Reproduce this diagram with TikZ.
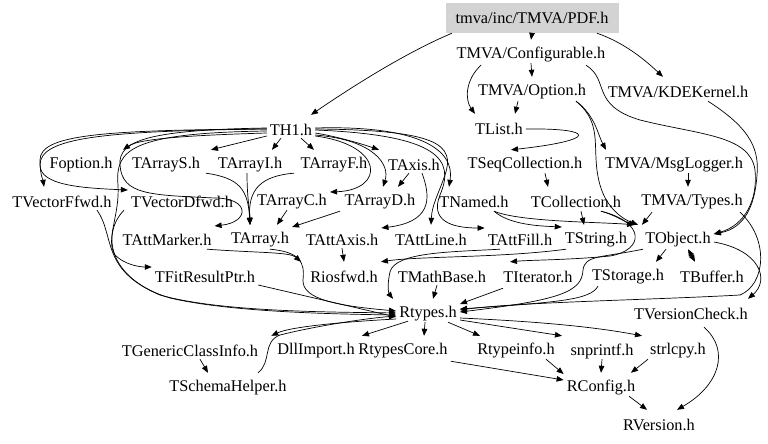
\documentclass[tikz,border=0pt]{standalone}
\usepackage{fontspec}
\setmainfont{Liberation Serif}
\usetikzlibrary{arrows.meta}
\definecolor{pdfgray}{RGB}{211,211,211}
\tikzset{
  lbl/.style={inner xsep=3pt, inner ysep=0pt, minimum height=30pt, font=\fontsize{16.3}{19}\selectfont},
  e/.style={draw, line width=0.7pt, -{Triangle[length=7pt,width=5.5pt]}},
  ee/.style={draw, line width=0.7pt, {Triangle[length=7pt,width=5.5pt]}-{Triangle[length=7pt,width=5.5pt]}}
}
\begin{document}
\begin{tikzpicture}[x=1pt,y=-1pt]
\useasboundingbox (0,0) rectangle (768,444);
% nodes
\node[lbl, fill=pdfgray, minimum width=173pt] (pdf) at (532,18) {tmva/inc/TMVA/PDF.h};
\node[lbl] (conf) at (531,55) {TMVA/Configurable.h};
\node[lbl] (opt) at (532,92) {TMVA/Option.h};
\node[lbl] (kde) at (678,92) {TMVA/KDEKernel.h};
\node[lbl] (th1) at (291,130) {TH1.h};
\node[lbl] (tlist) at (499,129) {TList.h};
\node[lbl] (foption) at (81,165) {Foption.h};
\node[lbl] (tarrs) at (166,165) {TArrayS.h};
\node[lbl] (tarri) at (250,165) {TArrayI.h};
\node[lbl] (tarrf) at (334,165) {TArrayF.h};
\node[lbl] (taxis) at (414,165) {TAxis.h};
\node[lbl] (tseq) at (525,165) {TSeqCollection.h};
\node[lbl] (msglog) at (674,165) {TMVA/MsgLogger.h};
\node[lbl] (tvecf) at (62,202) {TVectorFfwd.h};
\node[lbl] (tvecd) at (182,202) {TVectorDfwd.h};
\node[lbl] (tarrc) at (292,202) {TArrayC.h};
\node[lbl] (tarrd) at (380,202) {TArrayD.h};
\node[lbl] (tnamed) at (474,202) {TNamed.h};
\node[lbl] (tcoll) at (576,202) {TCollection.h};
\node[lbl] (types) at (692,202) {TMVA/Types.h};
\node[lbl] (tattm) at (167,240) {TAttMarker.h};
\node[lbl] (tarray) at (260,240) {TArray.h};
\node[lbl] (tatta) at (342,240) {TAttAxis.h};
\node[lbl] (tattl) at (431,240) {TAttLine.h};
\node[lbl] (tattf) at (520,240) {TAttFill.h};
\node[lbl] (tstring) at (596,240) {TString.h};
\node[lbl] (tobject) at (678,240) {TObject.h};
\node[lbl] (tfit) at (205,277) {TFitResultPtr.h};
\node[lbl] (riosfwd) at (344,277) {Riosfwd.h};
\node[lbl] (tmathb) at (442,277) {TMathBase.h};
\node[lbl] (titer) at (538,277) {TIterator.h};
\node[lbl] (tstor) at (628,277) {TStorage.h};
\node[lbl] (tbuf) at (712,277) {TBuffer.h};
\node[lbl] (rtypes) at (428,314) {Rtypes.h};
\node[lbl] (tvers) at (691,314) {TVersionCheck.h};
\node[lbl] (tgen) at (190,351) {TGenericClassInfo.h};
\node[lbl] (dll) at (316,351) {DllImport.h};
\node[lbl] (rcore) at (403,351) {RtypesCore.h};
\node[lbl] (rtinfo) at (516,351) {Rtypeinfo.h};
\node[lbl] (snpr) at (602,351) {snprintf.h};
\node[lbl] (strl) at (678,351) {strlcpy.h};
\node[lbl] (tschema) at (228,388) {TSchemaHelper.h};
\node[lbl] (rconfig) at (601,388) {RConfig.h};
\node[lbl] (rversion) at (659,425) {RVersion.h};
% edges: top
\draw[e] (pdf.south) -- (conf.north);
\draw[e] ([xshift=-80pt]pdf.south) .. controls (400,55) and (340,95) .. ([xshift=20pt]th1.north);
\draw[e] ([xshift=65pt]pdf.south) .. controls (625,43) and (645,60) .. ([xshift=-15pt]kde.north);
\draw[e] ([yshift=7pt]conf.south) -- (opt.north);
\draw[e] ([xshift=-50pt,yshift=5pt]conf.south) .. controls (465,80) and (465,100) .. ([xshift=-24pt]tlist.north);
\draw[e] ([xshift=55pt,yshift=5pt]conf.south) .. controls (610,80) and (590,105) .. (640,120) .. controls (700,135) and (750,135) .. (755,170) .. controls (758,200) and (745,225) .. ([yshift=6pt]tobject.east);
\draw[e] ([xshift=30pt,yshift=6pt]kde.south) .. controls (745,125) and (760,145) .. (757,175) .. controls (755,205) and (745,228) .. ([yshift=6pt]tobject.east);
\draw[e] ([xshift=-14pt,yshift=6pt]opt.south) -- ([xshift=16pt]tlist.north);
\draw[e] ([xshift=44pt,yshift=6pt]opt.south) .. controls (595,115) and (598,135) .. ([xshift=-68pt]msglog.north);
\draw[e] ([xshift=44pt,yshift=6pt]opt.south) .. controls (605,125) and (590,150) .. (600,185) .. controls (607,210) and (625,220) .. ([xshift=-40pt]tobject.north);
\draw[e] (tlist.east) .. controls (595,128) and (600,140) .. ([xshift=-14pt]tseq.north);
% TH1 edges
\draw[e] ([yshift=2pt]th1.east) .. controls (420,125) and (455,150) .. ([xshift=-25pt]tnamed.north);
\draw[e] ([yshift=1pt]th1.east) .. controls (440,130) and (455,145) .. (445,175) .. controls (438,195) and (432,205) .. (tattl.north);
\draw[e] (th1.east) .. controls (440,135) and (455,160) .. (440,195) .. controls (430,220) and (450,228) .. ([yshift=12pt]tattf.west);
\draw[e] ([yshift=-3pt]th1.east) .. controls (340,137) and (365,145) .. ([xshift=-35pt]taxis.north);
\draw[e] ([yshift=-5pt]th1.east) .. controls (375,140) and (390,165) .. ([xshift=3pt]tarrd.north);
\draw[e] ([yshift=-6pt]th1.east) .. controls (385,145) and (385,190) .. ([yshift=10pt]tarrc.east);
\draw[e] ([xshift=-10pt,yshift=7pt]th1.south) -- ([xshift=22pt]tarri.north);
\draw[e] ([xshift=10pt,yshift=7pt]th1.south) -- ([xshift=-20pt]tarrf.north);
\draw[e] ([yshift=-6pt]th1.west) -- ([xshift=45pt]tarrs.north);
\draw[e] ([yshift=-3pt]th1.west) .. controls (200,135) and (140,138) .. ([xshift=42pt]foption.north);
\draw[e] ([yshift=1pt]th1.west) .. controls (100,130) and (40,135) .. (40,160) .. controls (40,175) and (43,180) .. ([xshift=-18pt]tvecf.north);
\draw[e] ([yshift=1pt]th1.west) .. controls (100,131) and (40,138) .. (40,165) .. controls (40,185) and (80,188) .. ([yshift=12pt]tvecd.west);
\draw[e] ([yshift=2pt]th1.west) .. controls (150,130) and (118,140) .. (120,165) .. controls (122,195) and (150,195) .. (215,198) .. controls (250,198) and (250,222) .. ([yshift=14pt]tattm.east);
\draw[e] ([yshift=-1pt]th1.west) .. controls (130,133) and (115,150) .. (118,185) .. controls (120,215) and (105,240) .. (115,255) .. controls (125,265) and (140,267) .. ([yshift=10pt]tfit.west);
% vector -> Rtypes
\draw[e] ([xshift=35pt,yshift=7pt]tvecf.south) .. controls (115,235) and (100,270) .. (160,295) .. controls (220,312) and (330,312) .. ([yshift=1pt]rtypes.west);
\draw[e] ([xshift=-58pt,yshift=7pt]tvecd.south) .. controls (100,235) and (110,280) .. (170,298) .. controls (230,312) and (330,314) .. ([yshift=-1pt]rtypes.west);
\draw[e] ([yshift=-8pt]tfit.east) -- ([yshift=-3pt]rtypes.west);
% arrays
\draw[e] ([xshift=40pt,yshift=7pt]tarrs.south) .. controls (240,178) and (248,190) .. ([xshift=-10pt]tarray.north);
\draw[e] ([xshift=-3pt,yshift=7pt]tarri.south) .. controls (247,200) and (250,210) .. ([xshift=-10pt]tarray.north);
\draw[e] ([xshift=-40pt,yshift=7pt]tarrf.south) .. controls (260,176) and (248,190) .. ([xshift=-10pt]tarray.north);
\draw[e] ([xshift=-5pt,yshift=7pt]tarrc.south) -- ([xshift=17pt]tarray.north);
\draw[e] ([xshift=-40pt,yshift=6pt]tarrd.south) -- ([yshift=13pt]tarray.east);
\draw[e] ([xshift=-5pt,yshift=7pt]taxis.south) -- ([xshift=18pt]tarrd.north);
\draw[e] ([xshift=8pt,yshift=7pt]taxis.south) .. controls (432,200) and (430,222) .. ([yshift=12pt]tatta.east);
\draw[e] ([yshift=7pt]tatta.south) -- (riosfwd.north);
\draw[e] ([xshift=40pt,yshift=6pt]tattm.south) .. controls (260,253) and (290,252) .. ([xshift=-6pt]riosfwd.north west);
\draw[e] ([xshift=10pt,yshift=6pt]tarray.south) .. controls (300,252) and (305,262) .. (303,280) .. controls (302,300) and (340,306) .. ([yshift=3pt]rtypes.west);
\draw[e] ([xshift=-20pt,yshift=6pt]tattf.south) .. controls (450,252) and (395,252) .. (390,272) .. controls (386,290) and (390,295) .. ([xshift=-35pt]rtypes.north);
% collections, strings, objects
\draw[e] ([xshift=20pt,yshift=7pt]tseq.south) -- ([xshift=-28pt]tcoll.north);
\draw[e] ([xshift=20pt,yshift=6pt]tnamed.south) .. controls (520,222) and (600,222) .. ([xshift=-44pt]tobject.north);
\draw[e] ([xshift=20pt,yshift=6pt]tnamed.south) .. controls (510,225) and (540,226) .. ([yshift=13pt]tstring.west);
\draw[e] ([xshift=25pt,yshift=6pt]tcoll.south) .. controls (615,215) and (625,222) .. ([xshift=-42pt]tobject.north);
\draw[e] ([xshift=5pt,yshift=6pt]tcoll.south) -- ([xshift=-12pt]tstring.north);
\draw[e] ([xshift=25pt,yshift=6pt]tcoll.south) .. controls (645,222) and (645,250) .. (610,256) .. controls (570,260) and (530,260) .. ([xshift=-28pt]titer.north);
\draw[e] ([xshift=14pt,yshift=7pt]msglog.south) -- ([xshift=-4pt]types.north);
\draw[e] ([xshift=-40pt,yshift=5pt]types.south) -- ([xshift=-36pt]tobject.north);
\draw[e] ([xshift=48pt,yshift=5pt]types.south) .. controls (770,240) and (765,285) .. (740,295) .. controls (650,300) and (520,302) .. ([yshift=4pt]rtypes.east);
\draw[e] ([xshift=-30pt,yshift=6pt]tstring.south) .. controls (500,258) and (420,256) .. (riosfwd.north east);
\draw[e] ([yshift=-2pt]tobject.east) .. controls (760,250) and (770,280) .. ([xshift=57pt]tvers.north);
\draw[e] ([xshift=-12pt,yshift=6pt]tobject.south) -- ([xshift=28pt]tstor.north);
\draw[ee] ([xshift=10pt,yshift=6pt]tobject.south) -- ([xshift=-17pt]tbuf.north);
\draw[e] ([xshift=-35pt,yshift=6pt]tobject.south) .. controls (600,258) and (585,255) .. (583,270) .. controls (582,292) and (560,300) .. ([yshift=2pt]rtypes.east);
\draw[e] ([xshift=-5pt,yshift=7pt]tmathb.south) -- ([xshift=5pt]rtypes.north);
\draw[e] ([xshift=-35pt,yshift=4pt]titer.south) -- ([yshift=10pt]rtypes.east);
\draw[e] ([xshift=-30pt,yshift=6pt]tstor.south) .. controls (590,300) and (560,302) .. ([yshift=5pt]rtypes.east);
% Rtypes outgoing
\draw[e] ([yshift=-5pt]rtypes.west) .. controls (340,322) and (290,327) .. ([xshift=10pt]tgen.north east);
\draw[e] ([xshift=-20pt,yshift=8pt]rtypes.south) -- ([xshift=46pt]dll.north);
\draw[e] ([xshift=-3pt,yshift=7pt]rtypes.south) -- ([xshift=21pt]rcore.north);
\draw[e] ([xshift=20pt,yshift=7pt]rtypes.south) -- ([xshift=-36pt]rtinfo.north);
\draw[e] ([yshift=-6pt]rtypes.east) -- ([xshift=-40pt]snpr.north);
\draw[e] ([yshift=-4pt]rtypes.east) .. controls (550,322) and (600,328) .. ([xshift=-36pt]strl.north);
\draw[e] ([xshift=10pt,yshift=7pt]tgen.south) -- ([xshift=-20pt]tschema.north);
\draw[e] ([xshift=30pt]tschema.north) .. controls (272,362) and (262,342) .. (280,335) .. controls (320,325) and (370,318) .. ([yshift=-2pt]rtypes.west);
\draw[e] ([yshift=5pt]rcore.south east) -- ([yshift=8pt]rconfig.west);
\draw[e] ([xshift=30pt,yshift=7pt]rtinfo.south) -- ([yshift=14pt]rconfig.west);
\draw[e] ([yshift=7pt]snpr.south) -- (rconfig.north);
\draw[e] ([xshift=-30pt,yshift=7pt]strl.south) -- ([xshift=30pt]rconfig.north);
\draw[e] ([xshift=28pt,yshift=7pt]rconfig.south) -- ([xshift=-12pt]rversion.north);
\draw[e] ([xshift=13pt,yshift=2pt]tvers.south) .. controls (730,350) and (720,385) .. ([xshift=18pt]rversion.north);
\end{tikzpicture}
\end{document}
